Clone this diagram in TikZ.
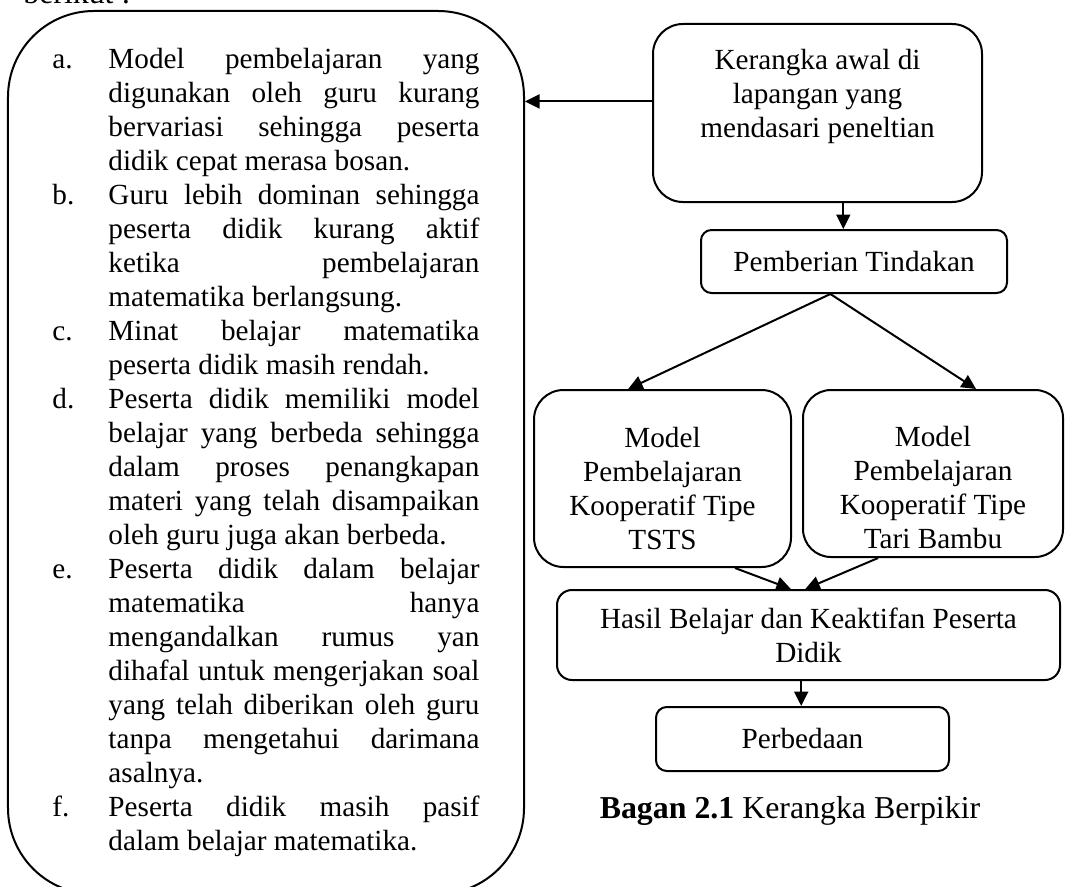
\documentclass[tikz,border=0pt]{standalone}
\usepackage{fontspec}
\setmainfont{Liberation Serif}
\usetikzlibrary{arrows.meta}

% satu baris rata kiri-kanan
\newcommand{\jbaris}[1]{\makebox[\linewidth][s]{#1}\newline}

\begin{document}
\begin{tikzpicture}[thick, x=0.4pt, y=-0.4pt,
    every node/.style={font=\fontsize{11.68}{13.6}\selectfont},
    kotak/.style={draw, align=center, inner sep=0pt},
    daftar/.style={draw, inner sep=0pt},
    panah/.style={-{Triangle[length=5.8pt,width=5.6pt]}}]
  \useasboundingbox (0,0) rectangle (1065,886);

  \node[anchor=base west, font=\fontsize{12.74}{14.6}\selectfont] (berikut) at (14,4) {berikut :};

  \node[daftar, rounded corners=34.4pt, minimum width=206.4pt, minimum height=353.2pt] (masalah) at (266,452.5) {%
    \begin{tabular}[t]{@{}p{22.4pt}@{}p{148.4pt}@{}}
      a. & \jbaris{Model pembelajaran yang}\jbaris{digunakan oleh guru kurang}\jbaris{bervariasi sehingga peserta}didik cepat merasa bosan. \\
      b. & \jbaris{Guru lebih dominan sehingga}\jbaris{peserta didik kurang aktif}\jbaris{ketika pembelajaran}matematika berlangsung. \\
      c. & \jbaris{Minat belajar matematika}peserta didik masih rendah. \\
      d. & \jbaris{Peserta didik memiliki model}\jbaris{belajar yang berbeda sehingga}\jbaris{dalam proses penangkapan}\jbaris{materi yang telah disampaikan}oleh guru juga akan berbeda. \\
      e. & \jbaris{Peserta didik dalam belajar}\jbaris{matematika hanya}\jbaris{mengandalkan rumus yan}\jbaris{dihafal untuk mengerjakan soal}\jbaris{yang telah diberikan oleh guru}\jbaris{tanpa mengetahui darimana}asalnya. \\
      f. & \jbaris{Peserta didik masih pasif}dalam belajar matematika. \\
    \end{tabular}};

  \node[kotak, rounded corners=12pt, minimum width=131.6pt, minimum height=71.2pt] (kerangka) at (817.5,113)
    {Kerangka awal di\\lapangan yang\\mendasari peneltian\rule[-16pt]{0pt}{0pt}};
  \node[kotak, rounded corners=4.2pt, minimum width=122.4pt, minimum height=25.2pt] (tindakan) at (854,261.5)
    {Pemberian Tindakan};
  \node[kotak, rounded corners=11.8pt, minimum width=102.8pt, minimum height=70.8pt] (tsts) at (662.5,478.5)
    {\rule{0pt}{16pt}Model\\Pembelajaran\\Kooperatif Tipe\\TSTS};
  \node[kotak, rounded corners=11.2pt, minimum width=104pt, minimum height=66.8pt] (tari) at (933,473.5)
    {\rule{0pt}{19pt}Model\\Pembelajaran\\Kooperatif Tipe\\Tari Bambu};
  \node[kotak, rounded corners=6pt, minimum width=201.2pt, minimum height=36pt] (hasil) at (808.5,635)
    {Hasil Belajar dan Keaktifan Peserta\\Didik};
  \node[kotak, rounded corners=4.3pt, minimum width=117.2pt, minimum height=25.6pt] (perbedaan) at (802.5,739)
    {Perbedaan};
  \node[anchor=base, font=\fontsize{12.74}{14.6}\selectfont] (judul) at (790,818)
    {\textbf{Bagan 2.1} Kerangka Berpikir};

  \draw[panah] (kerangka.176.5) -- (kerangka.176.5 -| masalah.east);
  \draw[panah] (kerangka.-74.6) -- (kerangka.-74.6 |- tindakan.north);
  \draw[panah] (tindakan.-126.1) -- (tsts.111.3);
  \draw[panah] (tindakan.-126.1) -- (tari.63.8);
  \draw[panah] (tsts.-51.1) -- (hasil.111.3);
  \draw[panah] (tari.-123.8) -- (hasil.94.4);
  \draw[panah] (hasil.-99.5) -- (hasil.-99.5 |- perbedaan.north);
\end{tikzpicture}
\end{document}
